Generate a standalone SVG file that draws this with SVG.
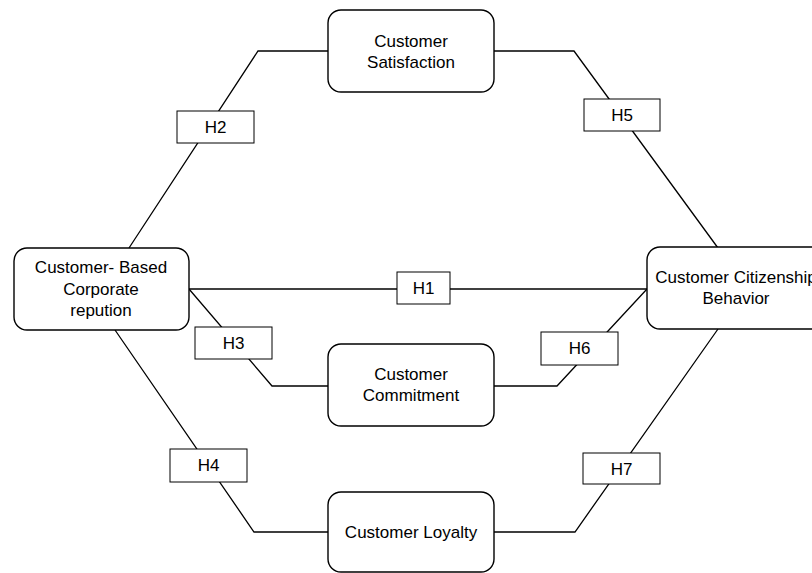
<svg xmlns="http://www.w3.org/2000/svg" width="812" height="573" viewBox="0 0 812 573">
<style>
.node{fill:#fff;stroke:#000;stroke-width:1.4}
.lbl{fill:#fff;stroke:#000;stroke-width:1}
.c{fill:none;stroke:#000;stroke-width:1.3}
text{font-family:"Liberation Sans",Arial,sans-serif;font-size:17px;fill:#000;text-anchor:middle}
</style>
<rect width="812" height="573" fill="#fff"/>
<g id="connectors">
<polyline class="c" points="129,248 258,51 328,51"/>
<polyline class="c" points="494,51 574,51 718,248"/>
<line class="c" x1="189" y1="289" x2="647" y2="289"/>
<polyline class="c" points="189,289 272,386 328,386"/>
<polyline class="c" points="494,386 557,386 647,289"/>
<polyline class="c" points="115,330 254,532 328,532"/>
<polyline class="c" points="494,532 575,532 718,329"/>
</g>
<g id="node-satisfaction">
<rect class="node" x="328" y="10" width="166" height="82" rx="13"/>
<text x="411" y="47">Customer</text>
<text x="411" y="68">Satisfaction</text>
</g>
<g id="node-reputation">
<rect class="node" x="14" y="248" width="175" height="82" rx="13"/>
<text x="101" y="273">Customer- Based</text>
<text x="101" y="295">Corporate</text>
<text x="101" y="316">repution</text>
</g>
<g id="node-citizenship">
<rect class="node" x="647" y="247" width="177" height="82" rx="13"/>
<text x="736" y="283">Customer Citizenship</text>
<text x="736" y="304">Behavior</text>
</g>
<g id="node-commitment">
<rect class="node" x="328" y="344" width="166" height="82" rx="13"/>
<text x="411" y="380">Customer</text>
<text x="411" y="401">Commitment</text>
</g>
<g id="node-loyalty">
<rect class="node" x="328" y="492" width="166" height="80" rx="13"/>
<text x="411" y="538">Customer Loyalty</text>
</g>
<g id="label-h1"><rect class="lbl" x="397" y="272" width="53" height="32"/><text x="423.5" y="294">H1</text></g>
<g id="label-h2"><rect class="lbl" x="177" y="111" width="77" height="32"/><text x="215.5" y="133">H2</text></g>
<g id="label-h3"><rect class="lbl" x="195" y="327" width="77" height="32"/><text x="233.5" y="349">H3</text></g>
<g id="label-h4"><rect class="lbl" x="170" y="449" width="77" height="33"/><text x="208.5" y="471">H4</text></g>
<g id="label-h5"><rect class="lbl" x="584" y="99" width="76" height="32"/><text x="622" y="121">H5</text></g>
<g id="label-h6"><rect class="lbl" x="541" y="332" width="77" height="33"/><text x="579.5" y="354">H6</text></g>
<g id="label-h7"><rect class="lbl" x="583" y="453" width="77" height="31"/><text x="621.5" y="475">H7</text></g>
</svg>
